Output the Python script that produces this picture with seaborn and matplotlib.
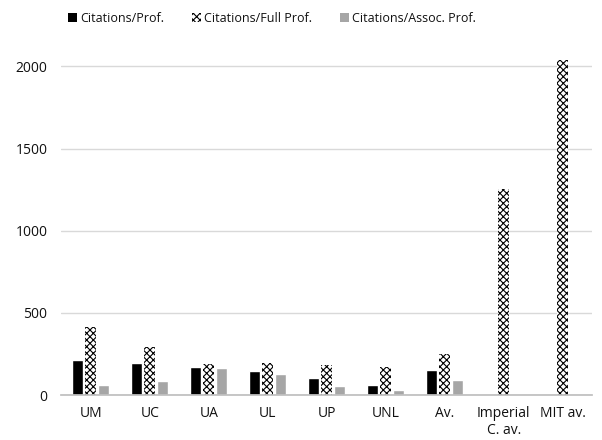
import matplotlib
matplotlib.use("Agg")
import matplotlib.pyplot as plt
import matplotlib.patches as mpatches
import numpy as np
import pandas as pd
import seaborn as sns

# Citation figures per university group
categories = ["UM", "UC", "UA", "UL", "UP", "UNL", "Av.", "Imperial\nC. av.", "MIT av."]
cit_prof = [214, 194, 172, 147, 107, 62, 153, np.nan, np.nan]
cit_full = [417, 295, 190, 194, 184, 169, 251, 1255, 2040]
cit_assoc = [62, 86, 163, 127, 58, 32, 92, np.nan, np.nan]
series_names = ["Citations/Prof.", "Citations/Full Prof.", "Citations/Assoc. Prof."]
yticks = [0, 500, 1000, 1500, 2000]

df = pd.DataFrame({
    "category": categories * 3,
    "series": [series_names[0]] * 9 + [series_names[1]] * 9 + [series_names[2]] * 9,
    "value": cit_prof + cit_full + cit_assoc,
})

sns.set_theme(style="white")
plt.rcParams["font.family"] = ["Open Sans", "DejaVu Sans"]
plt.rcParams["hatch.linewidth"] = 0.8

fig = plt.figure(figsize=(6.02, 4.4), dpi=100)
ax = fig.add_axes([0.102, 0.102, 0.882, 0.764])

palette = {series_names[0]: "black", series_names[1]: "white", series_names[2]: "#a6a6a6"}
sns.barplot(data=df, x="category", y="value", hue="series", order=categories,
            hue_order=series_names, palette=palette, width=0.66, gap=0.15,
            ax=ax, legend=False, saturation=1)

for bar in ax.containers[1]:
    bar.set_hatch("xxxxx")
    bar.set_edgecolor("black")
    bar.set_linewidth(0)

ax.set_ylim(0, 2045)
ax.set_yticks(yticks)
ax.set_yticklabels([str(t) for t in yticks], fontsize=10, color="#111111")
ax.tick_params(axis="x", labelsize=10, colors="#111111", length=0, pad=8)
ax.tick_params(axis="y", length=0, pad=10)
ax.set_xlabel("")
ax.set_ylabel("")
ax.yaxis.grid(True, color="#d9d9d9", linewidth=1)
ax.set_axisbelow(True)
for s in ["top", "right", "left"]:
    ax.spines[s].set_visible(False)
ax.spines["bottom"].set_color("#bfbfbf")

handles = [
    mpatches.Patch(facecolor="black", edgecolor="none"),
    mpatches.Patch(facecolor="white", edgecolor="black", hatch="xxxxx", linewidth=0),
    mpatches.Patch(facecolor="#a6a6a6", edgecolor="none"),
]
leg = fig.legend(handles, series_names, loc="center", bbox_to_anchor=(0.452, 0.958),
                 ncol=3, frameon=False, fontsize=9, handlelength=0.7, handleheight=0.7,
                 handletextpad=0.3, columnspacing=2.2)
for t in leg.get_texts():
    t.set_color("#111111")

fig.savefig("out.png", dpi=100)
